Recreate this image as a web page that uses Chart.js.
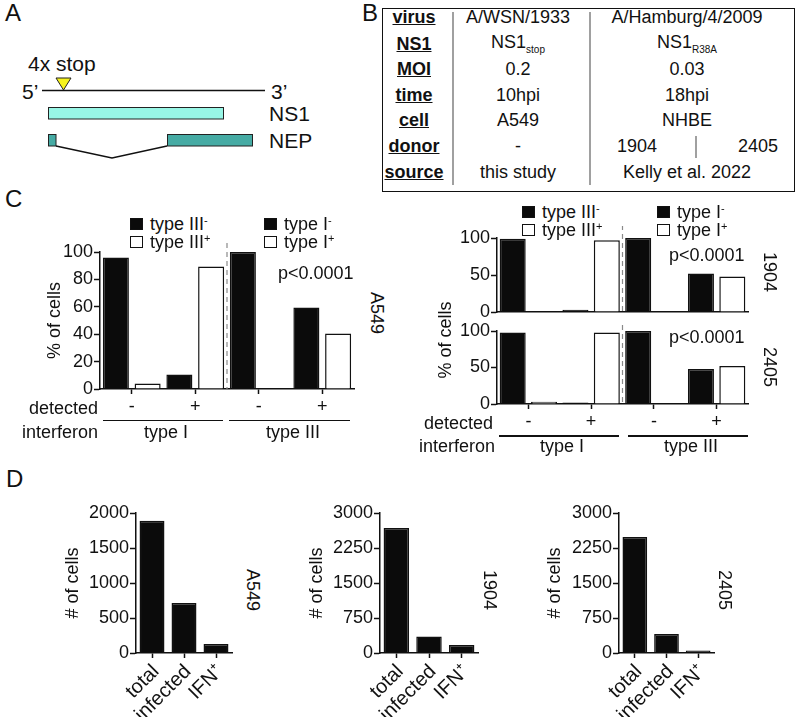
<!DOCTYPE html>
<html>
<head>
<meta charset="utf-8">
<script src="https://cdn.jsdelivr.net/npm/chart.js@4.4.0/dist/chart.umd.min.js"></script>
<style>
  body { margin: 0; background: #fff; }
  #fig { position: relative; width: 800px; height: 717px; overflow: hidden;
         font-family: "Liberation Sans", Arial, Helvetica, sans-serif; color: #111; }
  .t { position: absolute; white-space: nowrap; line-height: 1; }
  .t sup { font-size: 11px; vertical-align: 6px; }
  .t sub { font-size: 10px; vertical-align: -5px; }
</style>
</head>
<body>
<div id="fig"></div>
<script>
// ---- data ----
const detectedLabels = ["-", "+", "-", "+"];
const a549Neg = [96, 10.5, 100, 59.5];
const a549Pos = [4, 89.5, 0, 40.5];
const donor1904Neg = [99, 3, 100, 52];
const donor1904Pos = [1, 97, 0, 48];
const donor2405Neg = [98, 2, 100, 48];
const donor2405Pos = [3, 98, 0, 52];

const countLabels = ["total", "infected", "IFN⁺"];
const countA549 = [1890, 714, 127];
const count1904 = [2680, 352, 169];
const count2405 = [2484, 409, 55];

// table in panel B
const rowHeads = ["virus", "NS1", "MOI", "time", "cell", "donor", "source"];
const wsnCol = ["A/WSN/1933", "NS1<sub>stop</sub>", "0.2", "10hpi", "A549", "-", "this study"];
const hamburgCol = ["A/Hamburg/4/2009", "NS1<sub>R38A</sub>", "0.03", "18hpi", "NHBE", "", "Kelly et al. 2022"];
const donors = ["1904", "2405"];

const fig = document.getElementById("fig");
const FONT = { family: "'Liberation Sans', Arial, sans-serif", size: 18 };
const INK = "#111";

function txt(x, y, s, o = {}) {
  const el = document.createElement("div");
  el.className = "t";
  el.innerHTML = s;
  el.style.left = x + "px";
  el.style.top = y + "px";
  el.style.fontSize = (o.size || 18) + "px";
  if (o.bold) el.style.fontWeight = "bold";
  if (o.u) el.style.textDecoration = "underline";
  const ax = o.align === "left" ? "0" : o.align === "right" ? "-100%" : "-50%";
  el.style.transform = `translate(${ax},-50%)` + (o.rot ? ` rotate(${o.rot}deg)` : "");
  fig.appendChild(el);
  return el;
}

function rect(x, y, w, h, css) {
  const el = document.createElement("div");
  el.style.cssText = `position:absolute;left:${x}px;top:${y}px;width:${w}px;height:${h}px;box-sizing:border-box;` + css;
  fig.appendChild(el);
  return el;
}

function place(left, top, w, h) {
  const d = document.createElement("div");
  d.style.cssText = `position:absolute;left:${left}px;top:${top}px;width:${w}px;height:${h}px;`;
  const c = document.createElement("canvas");
  d.appendChild(c);
  fig.appendChild(d);
  return c;
}

// ---- panel letters ----
txt(5, 13, "A", { size: 24, align: "left" });
txt(362, 13, "B", { size: 24, align: "left" });
txt(5, 199, "C", { size: 24, align: "left" });
txt(6, 479, "D", { size: 24, align: "left" });

// ---- panel A: segment schematic ----
fig.insertAdjacentHTML("beforeend", `
<svg style="position:absolute;left:0;top:0" width="360" height="200">
  <line x1="42" y1="90.5" x2="265" y2="90.5" stroke="#111" stroke-width="1.5"/>
  <polygon points="56,78 71,78 63.5,90" fill="#f6f31c" stroke="#222" stroke-width="1"/>
  <rect x="48.5" y="107.5" width="175" height="11.5" fill="#98f6e6" stroke="#222" stroke-width="1"/>
  <rect x="48.5" y="134.5" width="7.5" height="11.5" fill="#46aba4" stroke="#222" stroke-width="1"/>
  <rect x="167.5" y="134.5" width="85" height="11.5" fill="#46aba4" stroke="#222" stroke-width="1"/>
  <polyline points="56,146 112,158 167,146" fill="none" stroke="#111" stroke-width="1.3"/>
</svg>`);
txt(28, 63, "4x stop", { size: 21, align: "left" });
txt(22, 91, "5’", { size: 21, align: "left" });
txt(271, 91, "3’", { size: 21, align: "left" });
txt(269, 113, "NS1", { size: 21, align: "left" });
txt(269, 140, "NEP", { size: 21, align: "left" });

// ---- panel B: table ----
rect(382, 8, 413, 184, "border:1.5px solid #111;");
rect(452, 12, 1.5, 173, "background:#a0a0a0;");
rect(589, 12, 1.5, 173, "background:#a0a0a0;");
rect(695, 136, 1.5, 22, "background:#a0a0a0;");
const rowY = [17, 44, 69, 95, 120, 146, 172];
rowHeads.forEach((h, i) => {
  txt(414, rowY[i], h, { bold: true, u: true });
  txt(518, rowY[i], wsnCol[i]);
  if (hamburgCol[i]) txt(687, rowY[i], hamburgCol[i]);
});
txt(637, rowY[5], donors[0]);
txt(758, rowY[5], donors[1]);

// ---- chart helpers ----
const divider = {
  id: "divider",
  afterDatasetsDraw(chart, args, opts) {
    const { ctx, chartArea, scales } = chart;
    const x = (scales.x.getPixelForTick(1) + scales.x.getPixelForTick(2)) / 2;
    ctx.save();
    ctx.setLineDash([5, 4]);
    ctx.strokeStyle = "#8a8a8a";
    ctx.lineWidth = 1.2;
    ctx.beginPath();
    ctx.moveTo(x, chartArea.top - opts.above);
    ctx.lineTo(x, chartArea.bottom);
    ctx.stroke();
    ctx.restore();
  }
};

function yAxis(max, step, width, title, titlePad) {
  return {
    min: 0, max,
    ticks: { stepSize: step, font: FONT, color: INK, padding: 1, callback: v => String(v) },
    grid: { drawOnChartArea: false, drawTicks: true, tickLength: 6, tickColor: INK, tickWidth: 1.5 },
    border: { display: true, color: INK, width: 1.5 },
    title: title
      ? { display: true, text: title, font: FONT, color: INK, padding: { top: titlePad, bottom: 0 } }
      : { display: false },
    afterFit: s => { s.width = width; }
  };
}

function xAxis(height, showLabels, rot, size, shift) {
  return {
    offset: true,
    ticks: { display: showLabels, font: { ...FONT, size: size || 18 }, color: INK, padding: 2,
             autoSkip: false, maxRotation: rot, minRotation: rot, labelOffset: shift || 0 },
    grid: { drawOnChartArea: false, offset: false, drawTicks: showLabels, tickLength: 5,
            tickColor: INK, tickWidth: 1.5 },
    border: { display: true, color: INK, width: 1.5 },
    afterFit: s => { s.height = height; }
  };
}

function pctChart(canvas, neg, pos, o) {
  return new Chart(canvas, {
    type: "bar",
    data: {
      labels: detectedLabels,
      datasets: [
        { label: "neg", data: neg, backgroundColor: "#0b0b0b", borderColor: INK, borderWidth: 1.5,
          barPercentage: o.barPct, categoryPercentage: 1 },
        { label: "pos", data: pos, backgroundColor: "#fff", borderColor: INK, borderWidth: 1.5,
          barPercentage: o.barPct, categoryPercentage: 1 }
      ]
    },
    options: {
      responsive: true, maintainAspectRatio: false, animation: false,
      layout: { padding: { top: o.padTop, right: o.padRight, bottom: o.padBottom || 0, left: 0 } },
      plugins: { legend: { display: false }, tooltip: { enabled: false }, divider: { above: o.above } },
      scales: {
        x: xAxis(o.xHeight, o.showX, 0),
        y: yAxis(100, o.step, o.yWidth, o.title, o.titlePad)
      }
    },
    plugins: [divider]
  });
}

function countChart(canvas, values, max, step, o) {
  return new Chart(canvas, {
    type: "bar",
    data: {
      labels: countLabels,
      datasets: [{ data: values, backgroundColor: "#0b0b0b", borderColor: INK, borderWidth: 1.5,
                   barPercentage: 0.78, categoryPercentage: 1 }]
    },
    options: {
      responsive: true, maintainAspectRatio: false, animation: false,
      layout: { padding: { top: 13, right: 4, bottom: 0, left: 0 } },
      plugins: { legend: { display: false }, tooltip: { enabled: false } },
      scales: {
        x: xAxis(64, true, 45, 20, 4),
        y: yAxis(max, step, o.yWidth, "# of cells", o.titlePad)
      }
    }
  });
}

function legend(x, y, negText, posText) {
  rect(x, y - 6, 13, 12, "background:#0b0b0b;border:1px solid #111;");
  txt(x + 20, y, negText, { align: "left" });
  rect(x, y + 12, 13, 12, "background:#fff;border:1.5px solid #111;");
  txt(x + 20, y + 18, posText, { align: "left" });
}

// ---- panel C, A549 ----
pctChart(place(20, 237, 340, 182), a549Neg, a549Pos,
  { barPct: 0.82, padTop: 15, padRight: 6, xHeight: 30, showX: true, step: 20,
    yWidth: 80, title: "% of cells", titlePad: 24, above: 9 });
legend(130, 224, "type III<sup>-</sup>", "type III<sup>+</sup>");
legend(264, 224, "type I<sup>-</sup>", "type I<sup>+</sup>");
txt(278, 273, "p&lt;0.0001", { align: "left" });
txt(377, 313, "A549", { rot: 90 });
txt(98, 408, "detected", { align: "right" });
txt(98, 432, "interferon", { align: "right" });
rect(103, 419.5, 120, 1.5, "background:#111;");
rect(229, 419.5, 121, 1.5, "background:#111;");
txt(166, 432, "type I");
txt(293, 432, "type III");

// ---- panel C, NHBE donors ----
pctChart(place(450, 226, 304, 98), donor1904Neg, donor1904Pos,
  { barPct: 0.83, padTop: 12, padRight: 6, padBottom: 12, xHeight: 0, showX: false, step: 50,
    yWidth: 47, title: "", titlePad: 0, above: 13 });
pctChart(place(450, 319, 304, 115), donor2405Neg, donor2405Pos,
  { barPct: 0.83, padTop: 12, padRight: 6, xHeight: 30, showX: true, step: 50,
    yWidth: 47, title: "", titlePad: 0, above: 6 });
legend(522, 212, "type III<sup>-</sup>", "type III<sup>+</sup>");
legend(657, 212, "type I<sup>-</sup>", "type I<sup>+</sup>");
txt(669, 255, "p&lt;0.0001", { align: "left" });
txt(669, 337, "p&lt;0.0001", { align: "left" });
txt(770, 272, "1904", { rot: 90 });
txt(770, 367, "2405", { rot: 90 });
txt(445, 340, "% of cells", { rot: -90 });
txt(493, 423, "detected", { align: "right" });
txt(495, 446, "interferon", { align: "right" });
rect(499, 435, 120, 1.5, "background:#111;");
rect(628, 435, 120, 1.5, "background:#111;");
txt(562, 446, "type I");
txt(691, 446, "type III");

// ---- panel D ----
countChart(place(60, 500, 176, 217), countA549, 2000, 500, { yWidth: 76, titlePad: 2 });
countChart(place(305, 500, 177, 217), count1904, 3000, 750, { yWidth: 75, titlePad: 1 });
countChart(place(543, 500, 175, 217), count2405, 3000, 750, { yWidth: 76, titlePad: 1 });
txt(253, 590, "A549", { rot: 90 });
txt(490, 590, "1904", { rot: 90 });
txt(725, 590, "2405", { rot: 90 });
</script>
</body>
</html>
